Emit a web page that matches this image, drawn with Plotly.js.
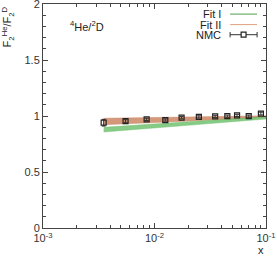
<!DOCTYPE html>
<html>
<head>
<meta charset="utf-8">
<script src="https://cdn.plot.ly/plotly-3.0.1.min.js"></script>
<style>html,body{margin:0;padding:0;background:#fff;}#chart{width:277px;height:260px;}</style>
</head>
<body>
<div id="chart"></div>
<script>
// NMC data
const nmcX = [0.0035, 0.0055, 0.0085, 0.0125, 0.0175, 0.025, 0.035, 0.045, 0.055, 0.07, 0.09];
const nmcY = [0.940, 0.955, 0.970, 0.964, 0.985, 0.992, 0.996, 0.998, 1.005, 0.998, 1.022];
const nmcErr = [0.030, 0.012, 0.010, 0.010, 0.010, 0.010, 0.010, 0.010, 0.010, 0.010, 0.012];
// Fit bands (endpoints in x)
const fitX = [0.0035, 0.1];
const fit1Lo = [0.857, 0.973];
const fit1Hi = [0.899, 0.993];
const fit2Lo = [0.922, 0.985];
const fit2Hi = [0.980, 1.002];
// tick labels
const xTickVals = [0.001, 0.01, 0.1];
const xTickText = ['10<sup>-3</sup>', '10<sup>-2</sup>', '10<sup>-1</sup>'];
const yTickVals = [0, 0.5, 1, 1.5, 2];
const yTickText = ['0', '0.5', '1', '1.5', '2'];

function band(lo, hi) {
  return { x: fitX.concat(fitX.slice().reverse()), y: lo.concat(hi.slice().reverse()) };
}
const b2 = band(fit2Lo, fit2Hi);
const b1 = band(fit1Lo, fit1Hi);

const minorX = [];
[0.001, 0.01].forEach(d => { for (let k = 2; k <= 9; k++) minorX.push(d * k); });

const traces = [
  { x: b2.x, y: b2.y, type: 'scatter', mode: 'lines', fill: 'toself',
    fillcolor: 'rgba(205,135,100,0.85)', line: {width: 0.5, color: 'rgba(205,135,100,0.9)'},
    showlegend: false, hoverinfo: 'skip' },
  { x: b1.x, y: b1.y, type: 'scatter', mode: 'lines', fill: 'toself',
    fillcolor: 'rgba(105,190,105,0.8)', line: {width: 0.5, color: 'rgba(105,190,105,0.85)'},
    showlegend: false, hoverinfo: 'skip' },
  { x: nmcX, y: nmcY, type: 'scatter', mode: 'markers',
    error_y: {type: 'data', array: nmcErr, visible: true, color: '#333', thickness: 1, width: 2},
    marker: {symbol: 'square-open', size: 5, color: '#222', line: {width: 1.2, color: '#222'}},
    showlegend: false }
];

const font = {family: 'Liberation Sans, Arial, sans-serif', size: 11, color: '#333'};
const lx0 = 0.839, lx1 = 0.960;
const ly = [0.955, 0.908, 0.863];

const layout = {
  width: 277, height: 260,
  margin: {l: 43, r: 11, t: 4, b: 32},
  paper_bgcolor: '#fff', plot_bgcolor: '#fff',
  font: font,
  showlegend: false,
  xaxis: {
    type: 'log', range: [-3, -1],
    tickmode: 'array', tickvals: xTickVals, ticktext: xTickText,
    ticks: 'inside', ticklen: 5, tickwidth: 1, tickcolor: '#444',
    minor: {tickmode: 'array', tickvals: minorX, ticks: 'inside', ticklen: 3, tickcolor: '#444', tickwidth: 1},
    showline: true, linecolor: '#444', linewidth: 1, mirror: 'allticks',
    showgrid: false, zeroline: false, tickfont: {size: 11, color: '#333'},
    ticklabeloverflow: 'allow'
  },
  yaxis: {
    range: [0, 2],
    tickmode: 'array', tickvals: yTickVals, ticktext: yTickText,
    ticks: 'inside', ticklen: 5, tickwidth: 1, tickcolor: '#444',
    minor: {dtick: 0.1, ticks: 'inside', ticklen: 3, tickcolor: '#444', tickwidth: 1},
    showline: true, linecolor: '#444', linewidth: 1, mirror: 'allticks',
    showgrid: false, zeroline: false, tickfont: {size: 11, color: '#333'},
    ticklabeloverflow: 'allow'
  },
  annotations: [
    {xref: 'paper', yref: 'paper', x: 0.112, y: 0.902, xanchor: 'left', yanchor: 'middle',
     text: '<sup>4</sup>He/<sup>2</sup>D', showarrow: false, font: {size: 11, color: '#222'}},
    {xref: 'paper', yref: 'paper', x: -0.157, y: 0.90, xanchor: 'center', yanchor: 'middle', textangle: -90,
     text: 'F<sub>2</sub><sup>He</sup>/F<sub>2</sub><sup>D</sup>', showarrow: false, font: {size: 11, color: '#222'}},
    {xref: 'paper', yref: 'paper', x: 1.0, y: -0.098, xanchor: 'right', yanchor: 'middle',
     text: 'x', showarrow: false, font: {size: 11, color: '#222'}},
    {xref: 'paper', yref: 'paper', x: 0.807, y: ly[0], xanchor: 'right', yanchor: 'middle',
     text: 'Fit I', showarrow: false, font: {size: 11, color: '#222'}},
    {xref: 'paper', yref: 'paper', x: 0.807, y: ly[1], xanchor: 'right', yanchor: 'middle',
     text: 'Fit II', showarrow: false, font: {size: 11, color: '#222'}},
    {xref: 'paper', yref: 'paper', x: 0.807, y: ly[2], xanchor: 'right', yanchor: 'middle',
     text: 'NMC', showarrow: false, font: {size: 11, color: '#222'}}
  ],
  shapes: [
    {type: 'line', xref: 'paper', yref: 'paper', x0: lx0, x1: lx1, y0: ly[0], y1: ly[0], line: {color: '#4a9e4a', width: 1}},
    {type: 'line', xref: 'paper', yref: 'paper', x0: lx0, x1: lx1, y0: ly[1], y1: ly[1], line: {color: '#e0a080', width: 1}},
    {type: 'line', xref: 'paper', yref: 'paper', x0: lx0, x1: lx1, y0: ly[2], y1: ly[2], line: {color: '#333', width: 1}},
    {type: 'line', xref: 'paper', yref: 'paper', x0: lx0, x1: lx0, y0: ly[2] - 0.012, y1: ly[2] + 0.012, line: {color: '#333', width: 1}},
    {type: 'line', xref: 'paper', yref: 'paper', x0: lx1, x1: lx1, y0: ly[2] - 0.012, y1: ly[2] + 0.012, line: {color: '#333', width: 1}},
    {type: 'rect', xref: 'paper', yref: 'paper', x0: (lx0 + lx1) / 2 - 0.011, x1: (lx0 + lx1) / 2 + 0.011,
     y0: ly[2] - 0.011, y1: ly[2] + 0.011, fillcolor: '#fff', line: {color: '#222', width: 1.2}}
  ]
};

Plotly.newPlot('chart', traces, layout, {staticPlot: true, displayModeBar: false});
</script>
</body>
</html>
